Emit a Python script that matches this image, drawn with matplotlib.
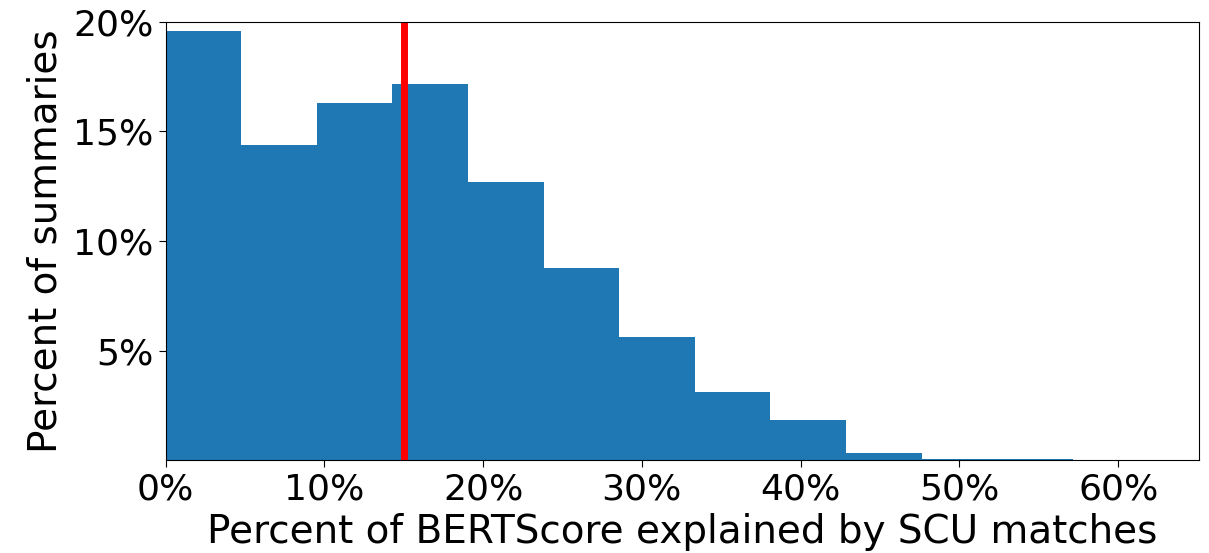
import numpy as np
import matplotlib
matplotlib.use("Agg")
import matplotlib.pyplot as plt
from matplotlib.ticker import PercentFormatter

# share of summaries per bin of "BERTScore explained by SCU matches"
bin_edges = np.linspace(0, 4 / 7, 13)
pct_summaries = [19.57, 14.38, 16.29, 17.16, 12.69, 8.77,
                 5.62, 3.12, 1.84, 0.34, 0.06, 0.05]
threshold = 0.15

plt.rcParams['font.size'] = 26

fig = plt.figure(figsize=(12.09, 5.53), dpi=100)
ax = fig.add_axes([0.1369, 0.1675, 0.855, 0.7933])

centers = (bin_edges[:-1] + bin_edges[1:]) / 2
ax.hist(centers, bins=bin_edges, weights=np.array(pct_summaries) / 100,
        color='#1f77b4')
ax.axvline(threshold, color='red', linewidth=5)

ax.set_xlim(0, 0.651)
ax.set_ylim(0, 0.20)
ax.set_xticks([0, 0.1, 0.2, 0.3, 0.4, 0.5, 0.6])
ax.set_yticks([0.05, 0.10, 0.15, 0.20])
ax.xaxis.set_major_formatter(PercentFormatter(1.0, decimals=0))
ax.yaxis.set_major_formatter(PercentFormatter(1.0, decimals=0))
ax.tick_params(length=5)

ax.set_xlabel("Percent of BERTScore explained by SCU matches",
              fontsize=28, labelpad=5)
ax.set_ylabel("Percent of summaries", fontsize=28, labelpad=6)

fig.savefig("out.png", dpi=100)
